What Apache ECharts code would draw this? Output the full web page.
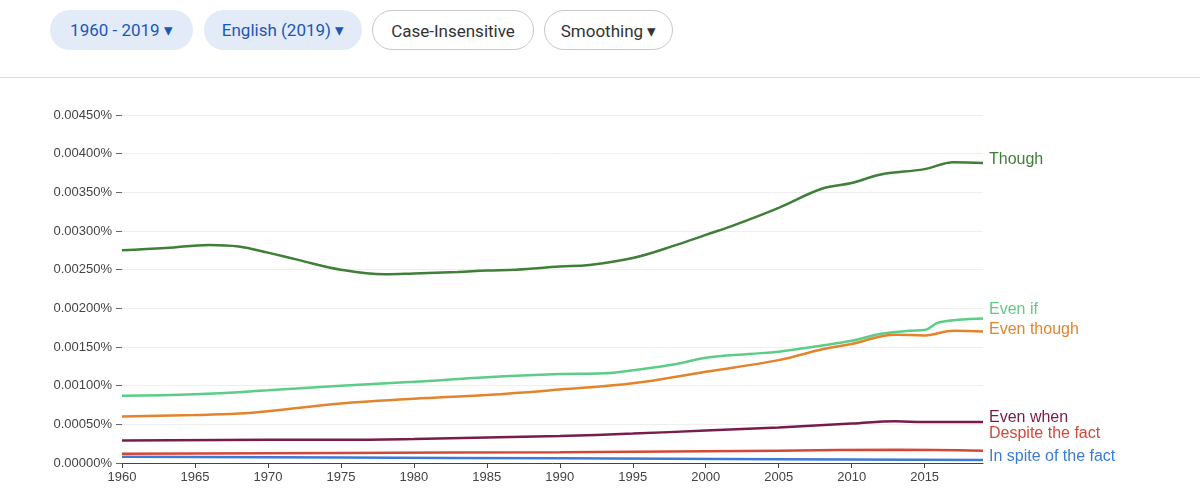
<!DOCTYPE html>
<html><head><meta charset="utf-8">
<script src="https://cdn.jsdelivr.net/npm/echarts@6/dist/echarts.min.js"></script>
<style>
body{margin:0;background:#fff;font-family:Roboto,sans-serif}
#chart{position:absolute;left:0;top:0;width:1200px;height:499px}
.bar{position:absolute;left:0;top:0;width:1200px;height:77px;border-bottom:1px solid #dadce0;z-index:2;background:#fff}
.b{position:absolute;top:10px;height:40px;line-height:40px;border-radius:20px;font-size:17px;padding:0 14px;box-sizing:border-box;white-space:nowrap;text-align:center}
.blue{background:#e3ebf9;color:#1a57b8}
.w{border:1px solid #c8c8c8;color:#333;background:#fff}
</style></head><body>
<div class="bar">
<div class="b blue" style="left:50px;width:143px">1960 - 2019 ▾</div>
<div class="b blue" style="left:204px;width:158px">English (2019) ▾</div>
<div class="b w" style="left:372px;width:162px">Case-Insensitive</div>
<div class="b w" style="left:544px;width:129px">Smoothing ▾</div>
</div>
<div id="chart"></div>
<script>
var names = ['Though','Even if','Even though','Even when','Despite the fact','In spite of the fact'];
var colors = ['#3f7f37','#5ccd86','#e3842c','#7a1c4b','#d4483a','#3c7ad6'];
var though = [[1960,.00275],[1963,.00278],[1966,.00282],[1968,.00280],[1970,.00272],[1972,.00263],[1975,.00250],[1978,.00244],[1980,.00245],[1983,.00247],[1985,.00249],[1987,.00250],[1990,.00254],[1992,.00256],[1995,.00265],[1998,.00282],[2000,.00295],[2002,.00308],[2005,.00330],[2008,.00355],[2010,.00362],[2012,.00373],[2015,.00380],[2017,.00389],[2019,.00388]];
var evenIf = [[1960,.00087],[1965,.00089],[1970,.00094],[1975,.00100],[1980,.00105],[1985,.00111],[1990,.00115],[1993,.00116],[1995,.00120],[1998,.00128],[2000,.00136],[2003,.00141],[2005,.00144],[2008,.00152],[2010,.00158],[2012,.00167],[2014,.00171],[2015,.00172],[2016,.00182],[2019,.00187]];
var evenThough = [[1960,.00060],[1965,.00062],[1968,.00064],[1970,.00067],[1975,.00077],[1980,.00083],[1985,.00088],[1990,.00095],[1995,.00103],[2000,.00118],[2005,.00133],[2008,.00147],[2010,.00154],[2013,.00166],[2015,.00165],[2017,.00171],[2019,.00170]];
var evenWhen = [[1960,.00029],[1970,.00030],[1975,.00030],[1980,.00031],[1985,.00033],[1990,.00035],[1995,.00038],[2000,.00042],[2005,.00046],[2010,.00051],[2013,.00054],[2015,.00053],[2019,.00053]];
var despite = [[1960,.00012],[1975,.00013],[1990,.00014],[2005,.00016],[2013,.00017],[2019,.00016]];
var inSpite = [[1960,.00008],[1975,.00007],[1990,.00006],[2005,.00005],[2019,.00004]];
var all = [though,evenIf,evenThough,evenWhen,despite,inSpite];
var labelOffsets = [-3,-9,-2,-4,-17,-3];

var chart = echarts.init(document.getElementById('chart'));
chart.setOption({
  animation:false,
  grid:{left:122,right:217,top:115,bottom:36},
  xAxis:{type:'value',min:1960,max:2019,interval:5,
    axisLine:{lineStyle:{color:'#444'}},axisTick:{show:true,lineStyle:{color:'#444'}},
    splitLine:{show:false},axisLabel:{color:'#444',fontSize:13,showMaxLabel:false,formatter:function(v){return String(v);}}},
  yAxis:{type:'value',min:0,max:0.0045,interval:0.0005,
    axisLine:{show:false},axisTick:{show:true,length:6,lineStyle:{color:'#666'}},
    splitLine:{lineStyle:{color:'#eeeeee'}},
    axisLabel:{color:'#444',fontSize:13,margin:10,formatter:function(v){return v.toFixed(5)+'%';}}},
  series: all.map(function(d,i){return {
    name:names[i],type:'line',data:d,smooth:0.4,showSymbol:false,
    lineStyle:{color:colors[i],width:2.5},itemStyle:{color:colors[i]},
    endLabel:{show:true,formatter:names[i],color:colors[i],fontSize:16,distance:6,offset:[0,labelOffsets[i]]}
  };})
});
</script>
</body></html>
